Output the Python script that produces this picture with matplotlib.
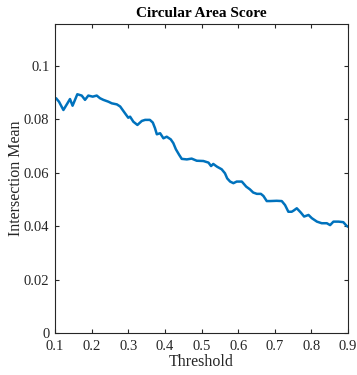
import matplotlib.pyplot as plt

# values
threshold = [0.100, 0.103, 0.111, 0.123, 0.134, 0.141, 0.148, 0.161, 0.173, 0.182,
             0.191, 0.203, 0.214, 0.223, 0.232, 0.246, 0.255, 0.269, 0.278, 0.291,
             0.300, 0.305, 0.314, 0.325, 0.337, 0.346, 0.359, 0.367, 0.373, 0.378,
             0.387, 0.396, 0.405, 0.416, 0.423, 0.430, 0.439, 0.446, 0.460, 0.473,
             0.487, 0.505, 0.519, 0.526, 0.532, 0.542, 0.555, 0.564, 0.570, 0.578,
             0.587, 0.596, 0.610, 0.622, 0.632, 0.641, 0.651, 0.662, 0.669, 0.678,
             0.687, 0.705, 0.719, 0.728, 0.737, 0.746, 0.751, 0.760, 0.771, 0.780,
             0.792, 0.801, 0.815, 0.828, 0.842, 0.851, 0.860, 0.874, 0.887, 0.896,
             0.900]
mean_val = [0.0875, 0.0879, 0.0866, 0.0835, 0.0860, 0.0876, 0.0851, 0.0894, 0.0889, 0.0873,
            0.0889, 0.0885, 0.0889, 0.0879, 0.0873, 0.0866, 0.0860, 0.0856, 0.0848, 0.0823,
            0.0806, 0.0810, 0.0791, 0.0779, 0.0794, 0.0798, 0.0798, 0.0788, 0.0767, 0.0744,
            0.0748, 0.0729, 0.0735, 0.0725, 0.0711, 0.0688, 0.0667, 0.0652, 0.0650, 0.0653,
            0.0645, 0.0644, 0.0638, 0.0625, 0.0633, 0.0623, 0.0613, 0.0598, 0.0579, 0.0567,
            0.0561, 0.0567, 0.0567, 0.0548, 0.0538, 0.0526, 0.0521, 0.0521, 0.0513, 0.0494,
            0.0494, 0.0495, 0.0494, 0.0479, 0.0454, 0.0454, 0.0458, 0.0467, 0.0451, 0.0436,
            0.0442, 0.0430, 0.0417, 0.0411, 0.0411, 0.0404, 0.0417, 0.0417, 0.0415, 0.0401,
            0.0398]

xticks = [0.1, 0.2, 0.3, 0.4, 0.5, 0.6, 0.7, 0.8, 0.9]
yticks = [0, 0.02, 0.04, 0.06, 0.08, 0.1]

plt.rcParams['font.family'] = ['Liberation Serif', 'DejaVu Serif']

fig = plt.figure(figsize=(3.57, 3.75), dpi=100)
ax = fig.add_axes([0.154, 0.112, 0.821, 0.824])

ax.plot(threshold, mean_val, color='#0072BD', linewidth=1.8)

ax.set_xlim(0.1, 0.9)
ax.set_ylim(0, 0.1157)
ax.set_xticks(xticks)
ax.set_xticklabels([str(t) for t in xticks])
ax.set_yticks(yticks)
ax.set_yticklabels(['0', '0.02', '0.04', '0.06', '0.08', '0.1'])

ax.tick_params(direction='in', top=True, right=True, length=3, width=0.8,
               labelsize=10.5, colors='#262626')
ax.tick_params(axis='x', pad=5)
ax.tick_params(axis='y', pad=4)
for s in ax.spines.values():
    s.set_color('#262626')
    s.set_linewidth(0.8)

ax.set_xlabel('Threshold', fontsize=11.5, color='#262626', labelpad=1)
ax.set_ylabel('Intersection Mean', fontsize=11.5, color='#262626', labelpad=0)
ax.set_title('Circular Area Score', fontsize=11, fontweight='bold', pad=5)

fig.savefig('out.png', dpi=100)
